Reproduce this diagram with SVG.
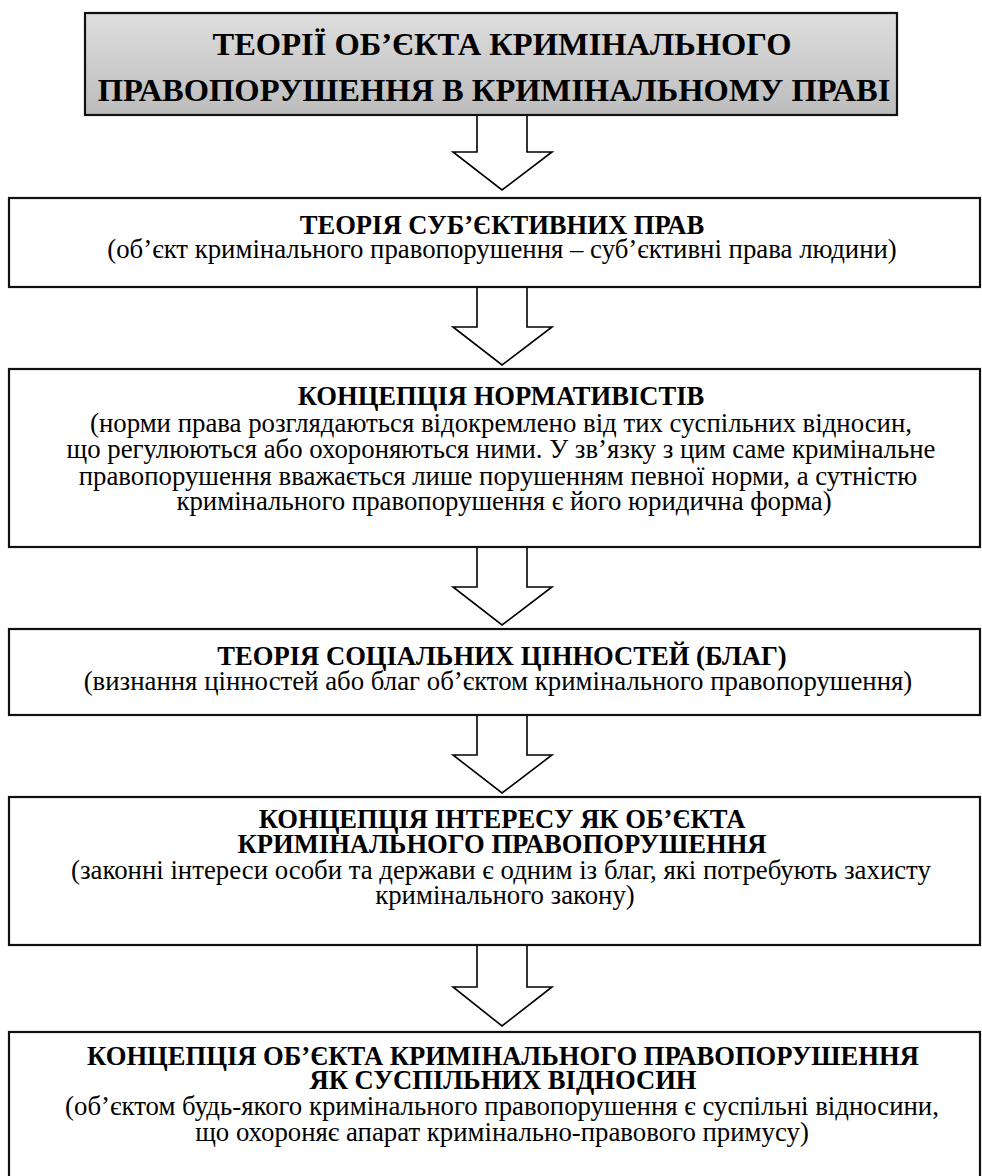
<svg xmlns="http://www.w3.org/2000/svg" width="982" height="1176" viewBox="0 0 982 1176">
<defs>
<linearGradient id="gTitle" x1="0" y1="0" x2="0" y2="1">
<stop offset="0" stop-color="#dedede"/>
<stop offset="1" stop-color="#bcbcbc"/>
</linearGradient>
</defs>
<style>
.box{fill:#ffffff;stroke:#111;stroke-width:2.2}
.title{fill:url(#gTitle);stroke:#111;stroke-width:2.2}
.arrow{fill:#ffffff;stroke:#000;stroke-width:1.6;stroke-linejoin:miter}
text{fill:#000;text-anchor:middle}
.t{font-size:32.5px;font-weight:bold}
.h{font-size:26.6px;font-weight:bold}
.s{font-size:26.8px}
</style>
<rect width="982" height="1176" fill="#ffffff"/>
<g id="connectors">
<polygon class="arrow" points="477,115 527,115 527,152 552,152 502,190 453,152 477,152"/>
<polygon class="arrow" points="477,287 527,287 527,327 552,327 502,365 453,327 477,327"/>
<polygon class="arrow" points="477,547 527,547 527,587 552,587 502,625 453,587 477,587"/>
<polygon class="arrow" points="477,715 527,715 527,755 552,755 502,793 453,755 477,755"/>
<polygon class="arrow" points="477,945 527,945 527,987 552,987 502,1026 453,987 477,987"/>
</g>
<g font-family="Liberation Serif, DejaVu Serif, serif">
<g id="node-title">
<rect class="title" x="85" y="13" width="812" height="102"/>
<text class="t" x="502" y="55">ТЕОРІЇ ОБ’ЄКТА КРИМІНАЛЬНОГО</text>
<text class="t" x="494" y="101">ПРАВОПОРУШЕННЯ В КРИМІНАЛЬНОМУ ПРАВІ</text>
</g>
<g id="node-subjective-rights">
<rect class="box" x="9" y="198" width="971" height="89"/>
<text class="h" x="502" y="234">ТЕОРІЯ СУБ’ЄКТИВНИХ ПРАВ</text>
<text class="s" x="502" y="258">(об’єкт кримінального правопорушення – суб’єктивні права людини)</text>
</g>
<g id="node-normativists">
<rect class="box" x="9" y="369" width="971" height="178"/>
<text class="h" x="501" y="405">КОНЦЕПЦІЯ НОРМАТИВІСТІВ</text>
<text class="s" x="501" y="432">(норми права розглядаються відокремлено від тих суспільних відносин,</text>
<text class="s" x="501" y="458">що регулюються або охороняються ними. У зв’язку з цим саме кримінальне</text>
<text class="s" x="498" y="485">правопорушення вважається лише порушенням певної норми, а сутністю</text>
<text class="s" x="504" y="510">кримінального правопорушення є його юридична форма)</text>
</g>
<g id="node-social-values">
<rect class="box" x="9" y="629" width="971" height="86"/>
<text class="h" x="502" y="665">ТЕОРІЯ СОЦІАЛЬНИХ ЦІННОСТЕЙ (БЛАГ)</text>
<text class="s" x="498" y="690">(визнання цінностей або благ об’єктом кримінального правопорушення)</text>
</g>
<g id="node-interest">
<rect class="box" x="9" y="797" width="971" height="148"/>
<text class="h" x="502" y="828">КОНЦЕПЦІЯ ІНТЕРЕСУ ЯК ОБ’ЄКТА</text>
<text class="h" x="502" y="853">КРИМІНАЛЬНОГО ПРАВОПОРУШЕННЯ</text>
<text class="s" x="501" y="879">(законні інтереси особи та держави є одним із благ, які потребують захисту</text>
<text class="s" x="505" y="904">кримінального закону)</text>
</g>
<g id="node-social-relations">
<rect class="box" x="9" y="1032" width="971" height="150"/>
<text class="h" x="503" y="1065">КОНЦЕПЦІЯ ОБ’ЄКТА КРИМІНАЛЬНОГО ПРАВОПОРУШЕННЯ</text>
<text class="h" x="503" y="1089">ЯК СУСПІЛЬНИХ ВІДНОСИН</text>
<text class="s" x="502" y="1115">(об’єктом будь-якого кримінального правопорушення є суспільні відносини,</text>
<text class="s" x="502" y="1141">що охороняє апарат кримінально-правового примусу)</text>
</g>
</g>
</svg>
